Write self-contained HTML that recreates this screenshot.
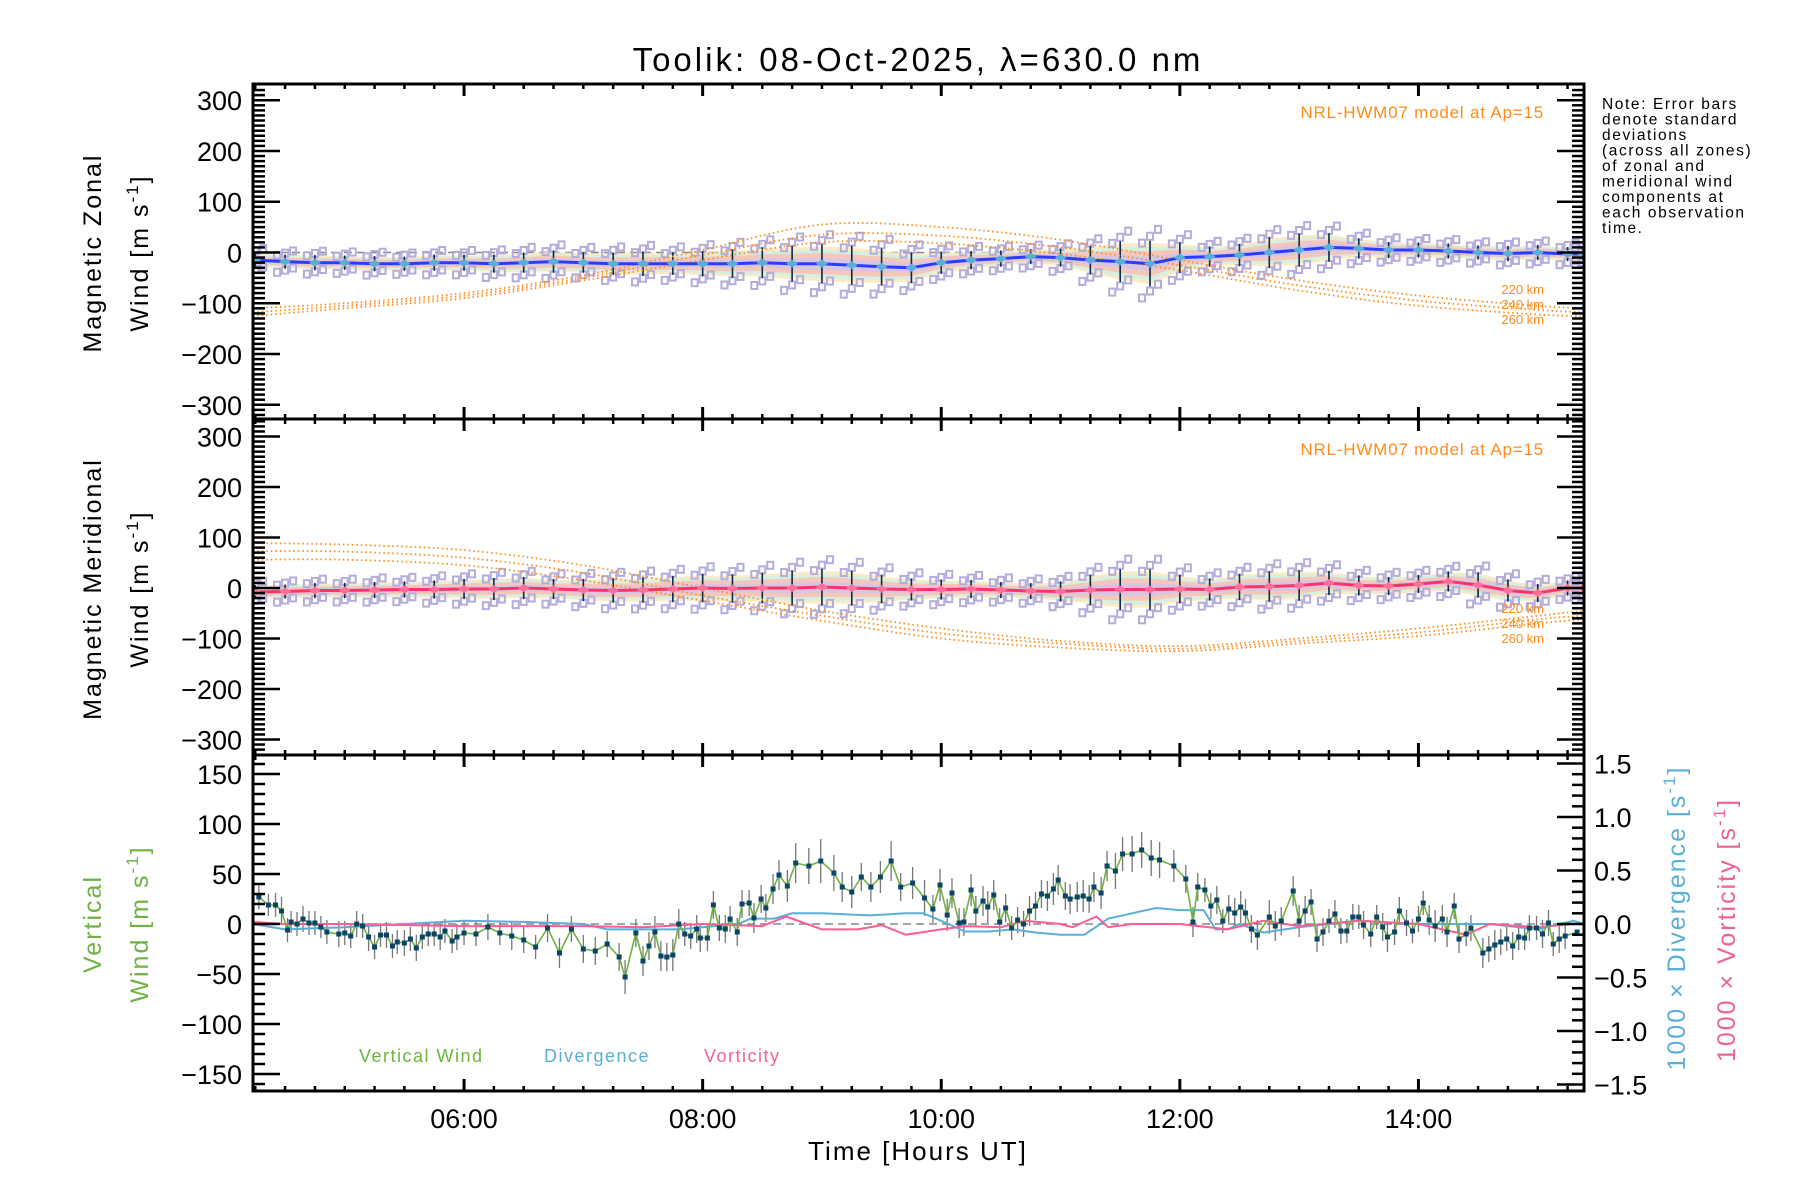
<!DOCTYPE html>
<html><head><meta charset="utf-8">
<style>
html,body{margin:0;padding:0;background:#fff;}
svg{display:block;font-family:"Liberation Sans",sans-serif;}
</style></head>
<body>
<svg id="chart" width="1800" height="1200" viewBox="0 0 1800 1200" xmlns="http://www.w3.org/2000/svg">
<text x="918" y="71" font-size="33" letter-spacing="3" text-anchor="middle">Toolik: 08-Oct-2025, λ=630.0 nm</text>
<g id="marks"></g>
<g id="axes"></g>
<text x="1544" y="118" font-size="17" letter-spacing="0.8" fill="#ff8c1a" text-anchor="end">NRL-HWM07 model at Ap=15</text>
<text x="1544" y="455" font-size="17" letter-spacing="0.8" fill="#ff8c1a" text-anchor="end">NRL-HWM07 model at Ap=15</text>
<g font-size="13" fill="#ff8c1a" text-anchor="end">
<text x="1544" y="294">220 km</text><text x="1544" y="309">240 km</text><text x="1544" y="324">260 km</text></g>
<g font-size="13" fill="#ff8c1a" text-anchor="end">
<text x="1544" y="613">220 km</text><text x="1544" y="628">240 km</text><text x="1544" y="643">260 km</text></g>
<g font-size="25" letter-spacing="2" text-anchor="middle">
<text transform="translate(101,253) rotate(-90)">Magnetic Zonal</text>
<text transform="translate(148,253) rotate(-90)">Wind [m s<tspan dy="-10" font-size="17">-1</tspan><tspan dy="10">]</tspan></text></g>
<g font-size="25" letter-spacing="2" text-anchor="middle">
<text transform="translate(101,589) rotate(-90)">Magnetic Meridional</text>
<text transform="translate(148,589) rotate(-90)">Wind [m s<tspan dy="-10" font-size="17">-1</tspan><tspan dy="10">]</tspan></text></g>
<g font-size="25" letter-spacing="2" text-anchor="middle" fill="#6db33f">
<text transform="translate(101,924) rotate(-90)">Vertical</text>
<text transform="translate(148,924) rotate(-90)">Wind [m s<tspan dy="-10" font-size="17">-1</tspan><tspan dy="10">]</tspan></text></g>
<text transform="translate(1685,918) rotate(-90)" font-size="25" letter-spacing="2" text-anchor="middle" fill="#5aaed8">1000 × Divergence [s<tspan dy="-10" font-size="17">-1</tspan><tspan dy="10">]</tspan></text>
<text transform="translate(1735,930) rotate(-90)" font-size="25" letter-spacing="2" text-anchor="middle" fill="#f0609a">1000 × Vorticity [s<tspan dy="-10" font-size="17">-1</tspan><tspan dy="10">]</tspan></text>
<text x="918" y="1160" font-size="26" letter-spacing="2" text-anchor="middle">Time [Hours UT]</text>
<text x="359" y="1062" font-size="18" letter-spacing="1.5" fill="#6db33f">Vertical Wind</text>
<text x="544" y="1062" font-size="18" letter-spacing="1.5" fill="#5aaed8">Divergence</text>
<text x="704" y="1062" font-size="18" letter-spacing="1.5" fill="#f0609a">Vorticity</text>
<g font-size="15.5" letter-spacing="1.6">
<text x="1602" y="109">Note: Error bars</text><text x="1602" y="124.5">denote standard</text><text x="1602" y="140">deviations</text><text x="1602" y="155.5">(across all zones)</text><text x="1602" y="171">of zonal and</text><text x="1602" y="186.5">meridional wind</text><text x="1602" y="202">components at</text><text x="1602" y="217.5">each observation</text><text x="1602" y="233">time.</text></g>
</svg>
<script>
// ---- data ----
const windTimes = [4.25,4.5,4.75,5,5.25,5.5,5.75,6,6.25,6.5,6.75,7,7.25,7.5,7.75,8,8.25,8.5,8.75,9,9.25,9.5,9.75,10,10.25,10.5,10.75,11,11.25,11.5,11.75,12,12.25,12.5,12.75,13,13.25,13.5,13.75,14,14.25,14.5,14.75,15,15.25,15.38];
const zonalMean = [-15,-18,-20,-20,-22,-22,-20,-20,-22,-20,-18,-20,-22,-22,-22,-22,-22,-20,-22,-22,-25,-28,-30,-20,-15,-12,-8,-10,-15,-18,-22,-10,-8,-5,0,5,10,8,5,5,3,0,-2,0,-3,-3];
const zonalSpread = [15,14,15,14,15,14,16,16,18,20,22,20,22,24,22,25,28,30,35,38,38,36,30,22,18,16,15,18,28,40,45,30,20,22,30,32,28,20,16,15,15,14,15,15,14,14];
const meridMean = [-8,-7,-5,-5,-4,-3,-3,-2,-2,0,-2,-4,-5,-4,-2,0,-1,0,0,2,0,-2,-3,-3,-2,-4,-6,-7,-4,-3,-3,-2,-3,2,3,5,10,5,4,8,13,6,-5,-10,0,0];
const meridSpread = [14,14,15,15,16,16,18,20,22,22,20,22,24,25,26,28,28,30,34,36,34,28,22,20,18,16,16,20,30,40,40,28,22,26,30,30,24,20,18,18,20,25,22,18,15,15];
const modelTimes = [4.23,5,6,7,8,9,10,11,12,13,14,15,15.39];
const zonalModel220 = [-110,-100,-80,-45,5,55,50,25,-15,-55,-85,-105,-110];
const zonalModel240 = [-118,-105,-85,-50,-5,35,33,10,-25,-65,-95,-113,-118];
const zonalModel260 = [-125,-110,-90,-55,-15,20,18,-3,-35,-75,-105,-122,-126];
const meridModel220 = [89,86,75,45,0,-45,-80,-105,-115,-100,-80,-55,-45];
const meridModel240 = [73,72,60,30,-15,-55,-90,-110,-120,-105,-88,-62,-55];
const meridModel260 = [56,56,45,15,-25,-65,-100,-118,-125,-110,-95,-70,-62];
const vertTimes = [4.28,4.36,4.42,4.47,4.52,4.55,4.6,4.65,4.7,4.75,4.8,4.85,4.95,5.0,5.05,5.1,5.15,5.2,5.25,5.3,5.35,5.4,5.44,5.5,5.55,5.6,5.65,5.7,5.75,5.8,5.84,5.9,5.94,6.0,6.1,6.2,6.3,6.4,6.5,6.6,6.7,6.8,6.9,7.0,7.1,7.2,7.3,7.35,7.44,7.5,7.55,7.6,7.65,7.7,7.75,7.8,7.85,7.9,7.95,7.98,8.04,8.09,8.14,8.19,8.23,8.29,8.33,8.39,8.43,8.49,8.53,8.59,8.64,8.71,8.78,8.89,8.99,9.1,9.17,9.25,9.33,9.41,9.49,9.58,9.66,9.76,9.86,9.93,9.99,10.05,10.09,10.15,10.19,10.25,10.29,10.35,10.39,10.44,10.49,10.54,10.59,10.64,10.69,10.74,10.79,10.84,10.89,10.94,10.98,11.04,11.08,11.14,11.19,11.24,11.28,11.34,11.39,11.46,11.52,11.6,11.68,11.76,11.83,11.95,12.05,12.11,12.15,12.21,12.26,12.31,12.36,12.41,12.46,12.51,12.55,12.6,12.65,12.75,12.8,12.85,12.95,13.0,13.05,13.1,13.15,13.2,13.25,13.3,13.35,13.4,13.45,13.5,13.54,13.6,13.65,13.7,13.74,13.8,13.84,13.9,13.95,14.0,14.04,14.09,14.14,14.2,14.24,14.3,14.34,14.4,14.44,14.54,14.59,14.64,14.69,14.74,14.79,14.84,14.89,14.93,14.99,15.04,15.09,15.13,15.18,15.23,15.33,15.38];
const vertWind = [27,19,19,13,-6,2,0,5,1,1,-3,-8,-10,-9,-12,0,-2,-13,-23,-11,-11,-22,-18,-19,-15,-24,-13,-10,-10,-13,-7,-17,-13,-9,-10,-3,-9,-12,-16,-23,-4,-29,-5,-25,-27,-20,-33,-53,-9,-37,-22,-8,-32,-33,-31,0,-10,-12,-5,-14,-14,19,-4,-5,5,-8,20,21,6,25,16,35,49,38,61,58,63,51,37,32,47,37,47,63,37,41,26,15,39,9,31,1,2,34,13,23,17,29,2,16,-4,4,0,13,18,30,28,35,44,28,25,27,28,25,37,31,58,53,70,70,74,66,64,58,45,2,37,34,18,24,3,15,11,17,11,-5,-11,7,-2,3,33,3,13,22,-15,-8,3,10,-7,-7,7,7,-1,-10,7,-3,-13,-8,13,1,-7,5,21,4,-2,5,-8,18,-15,-10,-4,-29,-25,-21,-18,-15,-22,-13,-14,-4,-4,-10,1,-20,-15,-12,-8];
const vertErr = [12,11,12,14,12,11,12,13,12,12,11,12,13,12,12,13,12,14,12,12,13,12,12,13,12,13,12,12,12,13,12,12,13,12,12,13,12,14,13,12,14,15,13,14,14,13,14,17,14,15,14,16,15,14,16,15,12,13,14,14,13,14,13,14,13,14,14,13,15,14,14,15,15,16,20,18,22,18,15,16,14,15,16,20,14,16,18,14,16,16,15,15,14,16,15,15,16,15,14,14,12,13,13,15,14,14,15,16,15,14,15,15,16,14,15,16,15,18,17,18,18,18,18,16,14,15,14,12,13,14,12,14,15,16,14,14,15,17,15,14,15,16,15,13,13,14,12,14,13,12,13,12,14,13,12,14,15,13,14,13,12,13,12,15,16,14,15,13,14,12,13,15,13,15,13,12,14,13,12,13,12,14,13,12,14,13];
const divTimes = [4.23,4.5,5,5.5,6,6.5,7,7.2,7.5,7.8,8,8.3,8.4,8.6,8.75,9,9.4,9.7,9.85,10,10.2,10.4,10.6,10.8,11,11.2,11.4,11.6,11.8,12,12.2,12.3,12.4,12.5,12.7,13,13.5,14,14.2,14.6,15,15.3,15.39];
const divergence = [0,-0.05,-0.03,0,0.03,0.02,0,-0.05,-0.05,-0.05,-0.03,0,0.05,0.05,0.1,0.1,0.08,0.1,0.1,0.03,-0.07,-0.07,-0.05,-0.08,-0.1,-0.1,0.05,0.1,0.15,0.13,0.13,-0.05,-0.05,0,-0.08,-0.03,0.03,0,0,0,-0.05,0.03,0];
const vortTimes = [4.23,4.5,5,6,7,7.5,8,8.5,8.7,9,9.3,9.5,9.7,10,10.2,10.5,10.7,11,11.1,11.3,11.4,11.6,12,12.4,12.7,13,13.5,14,14.4,14.6,15,15.3,15.39];
const vorticity = [0.02,0,0,-0.02,-0.02,-0.03,0,-0.02,0.07,-0.05,-0.05,-0.01,-0.1,-0.05,-0.02,-0.03,0.03,0,-0.03,0.07,-0.03,0,0,-0.05,0.03,-0.02,0.03,0,-0.1,0,-0.03,0,0];
const xTickHours = [6,8,10,12,14];
const xTickLabels = ["06:00","08:00","10:00","12:00","14:00"];
const windTickValues = [300,200,100,0,-100,-200,-300];
const vertTickValues = [150,100,50,0,-50,-100,-150];
const rightTickValues = [1.5,1.0,0.5,0.0,-0.5,-1.0,-1.5];

// ---- axes ----
const XL=253, XR=1584;
const X = h => XL + (h-4.231)*119.3;
const P1 = {top:84,bot:419,zero:252.5,k:0.5076};
const P2 = {top:419,bot:755,zero:588,k:0.505};
const P3 = {top:755,bot:1091,zero:924,k:1.0};
const Y1 = v => P1.zero - v*P1.k;
const Y2 = v => P2.zero - v*P2.k;
const Y3 = v => P3.zero - v*P3.k;
const YR = v => P3.zero - v*107;
const NS='http://www.w3.org/2000/svg';
const marks=document.getElementById('marks'), axes=document.getElementById('axes');
function mk(tag,attrs,parent){const e=document.createElementNS(NS,tag);for(const k in attrs)e.setAttribute(k,attrs[k]);parent.appendChild(e);return e;}
function clip(id,p){const d=mk('clipPath',{id:id},marks);mk('rect',{x:XL,y:p.top,width:XR-XL,height:p.bot-p.top},d);}
clip('c1',P1);clip('c2',P2);clip('c3',P3);
function polyPts(ts,vs,Y){return ts.map((t,i)=>X(t).toFixed(1)+','+Y(vs[i]).toFixed(1)).join(' ');}
function smoothPath(ts,vs,Y){
  const p=ts.map((t,i)=>[X(t),Y(vs[i])]);
  let d='M'+p[0][0]+','+p[0][1];
  for(let i=0;i<p.length-1;i++){
    const p0=p[Math.max(0,i-1)],p1=p[i],p2=p[i+1],p3=p[Math.min(p.length-1,i+2)];
    const c1=[p1[0]+(p2[0]-p0[0])/6,p1[1]+(p2[1]-p0[1])/6];
    const c2=[p2[0]-(p3[0]-p1[0])/6,p2[1]-(p3[1]-p1[1])/6];
    d+=` C${c1[0]},${c1[1]} ${c2[0]},${c2[1]} ${p2[0]},${p2[1]}`;
  }
  return d;
}

function windPanel(Y,mean,spread,models,lineCol,mkCol,cid,nm){
  const g=mk('g',{'clip-path':'url(#'+cid+')'},marks);
  
  
  mk('line',{x1:XL,x2:XR,y1:Y(0),y2:Y(0),stroke:'#888','stroke-width':1.5,'stroke-dasharray':'8,5'},g);
  const bandCols=['#ffe3b0','#c8f2ea','#ffb9ad','#cbc6f0'];
  const bandK=[0.9,0.75,0.55,0.3];
  bandCols.forEach((c,b)=>{
    const up=windTimes.map((t,i)=>X(t)+','+Y(mean[i]+spread[i]*bandK[b]));
    const dn=windTimes.map((t,i)=>X(t)+','+Y(mean[i]-spread[i]*bandK[b])).reverse();
    const band=mk('polygon',{points:up.concat(dn).join(' '),fill:c,opacity:0.75},g);
    
    
  });
  const offs=[-1.5,-1.2,-0.9,0.9,1.2,1.5];
  windTimes.forEach((t,i)=>{
    offs.forEach((o,j)=>{
      const sq=mk('rect',{x:X(t)-3+((j%3)-1)*8,y:Y(mean[i]+o*spread[i])-3.5,width:6,height:7,fill:'none',stroke:'#b4acdc','stroke-width':2},g);
      
      
    });
    const eb=mk('line',{x1:X(t),x2:X(t),y1:Y(mean[i]+spread[i]),y2:Y(mean[i]-spread[i]),stroke:'#0a2a4a','stroke-width':1.6},g);
    
    
  });
  models.forEach(m=>{
    const l=mk('path',{d:smoothPath(modelTimes,m,Y),fill:'none',stroke:'#ff8c1a','stroke-width':1.8,'stroke-dasharray':'1.5,3'},g);
    
    
  });
  const ml=mk('polyline',{points:polyPts(windTimes,mean,Y),fill:'none',stroke:lineCol,'stroke-width':3},g);
  
  
  windTimes.forEach((t,i)=>{
    const x=X(t),y=Y(mean[i]);
    const d=mk('polygon',{points:`${x-6},${y} ${x},${y-4} ${x+6},${y} ${x},${y+4}`,fill:mkCol},g);
    
    
  });
}
windPanel(Y1,zonalMean,zonalSpread,[zonalModel220,zonalModel240,zonalModel260],'#2a3cff','#5aaed8','c1','zonal');
windPanel(Y2,meridMean,meridSpread,[meridModel220,meridModel240,meridModel260],'#ff3366','#ff6f9a','c2','meridional');

(function(){
  const g=mk('g',{'clip-path':'url(#c3)'},marks);
  
  
  mk('line',{x1:XL,x2:XR,y1:Y3(0),y2:Y3(0),stroke:'#888','stroke-width':1.5,'stroke-dasharray':'8,5'},g);
  vertTimes.forEach((t,i)=>{
    const e=mk('line',{x1:X(t),x2:X(t),y1:Y3(vertWind[i]+vertErr[i]),y2:Y3(vertWind[i]-vertErr[i]),stroke:'#777','stroke-width':1.3},g);
    
    
  });
  const dl=mk('polyline',{points:polyPts(divTimes,divergence,YR),fill:'none',stroke:'#5aaed8','stroke-width':2},g);
  
  
  const vl=mk('polyline',{points:polyPts(vortTimes,vorticity,YR),fill:'none',stroke:'#ff5c93','stroke-width':2},g);
  
  
  const wl=mk('polyline',{points:polyPts(vertTimes,vertWind,Y3),fill:'none',stroke:'#6db33f','stroke-width':1.6},g);
  
  
  vertTimes.forEach((t,i)=>{
    const p=mk('rect',{x:X(t)-2.5,y:Y3(vertWind[i])-2.5,width:5,height:5,fill:'#0b4566'},g);
    
    
  });
})();

function frame(p,nm){
  const r=mk('rect',{x:XL,y:p.top,width:XR-XL,height:p.bot-p.top,fill:'none',stroke:'#000','stroke-width':3},axes);
  
  
  for(let h=4.25;h<15.4;h+=0.25){
    const maj=Math.abs(h/2-Math.round(h/2))<1e-6;
    const L=maj?12:5;
    mk('line',{x1:X(h),x2:X(h),y1:p.bot,y2:p.bot-L,stroke:'#000','stroke-width':maj?3:2.5},axes);
    mk('line',{x1:X(h),x2:X(h),y1:p.top,y2:p.top+L,stroke:'#000','stroke-width':maj?3:2.5},axes);
  }
}
frame(P1,'zonal');frame(P2,'meridional');frame(P3,'vertical');
function yTicks(p,Y,lo,hi,step,majStep,left,right){
  for(let v=lo;v<=hi+1e-9;v+=step){
    const y=Y(v); if(y<p.top+1||y>p.bot-1)continue;
    const maj=Math.abs(v/majStep-Math.round(v/majStep))<1e-6;
    const L=maj?27:12;
    if(left)mk('line',{x1:XL,x2:XL+L,y1:y,y2:y,stroke:'#000','stroke-width':2.5},axes);
    if(right)mk('line',{x1:XR,x2:XR-L,y1:y,y2:y,stroke:'#000','stroke-width':2.5},axes);
  }
}
yTicks(P1,Y1,-330,330,10,100,true,true);
yTicks(P2,Y2,-330,330,10,100,true,true);
yTicks(P3,Y3,-160,160,10,50,true,false);
yTicks(P3,YR,-1.5,1.5,0.1,0.5,false,true);
function label(txt,x,y,anchor,nm){
  const t=mk('text',{x:x,y:y,'font-size':27,'text-anchor':anchor},axes);
  t.textContent=txt;
  
  
}
const fmt=v=>(v<0?'\u2212'+(-v):''+v);
windTickValues.forEach(v=>label(fmt(v),242,Y1(v)+10,'end','zonal-y-tick-label'));
windTickValues.forEach(v=>label(fmt(v),242,Y2(v)+10,'end','meridional-y-tick-label'));
vertTickValues.forEach(v=>label(fmt(v),242,Y3(v)+10,'end','vertical-y-tick-label'));
rightTickValues.forEach(v=>label((v<0?'\u2212':'')+Math.abs(v).toFixed(1),1594,YR(v)+10,'start','right-y-tick-label'));
xTickHours.forEach((h,i)=>label(xTickLabels[i],X(h),1128,'middle','x-tick-label'));
</script>
</body></html>
